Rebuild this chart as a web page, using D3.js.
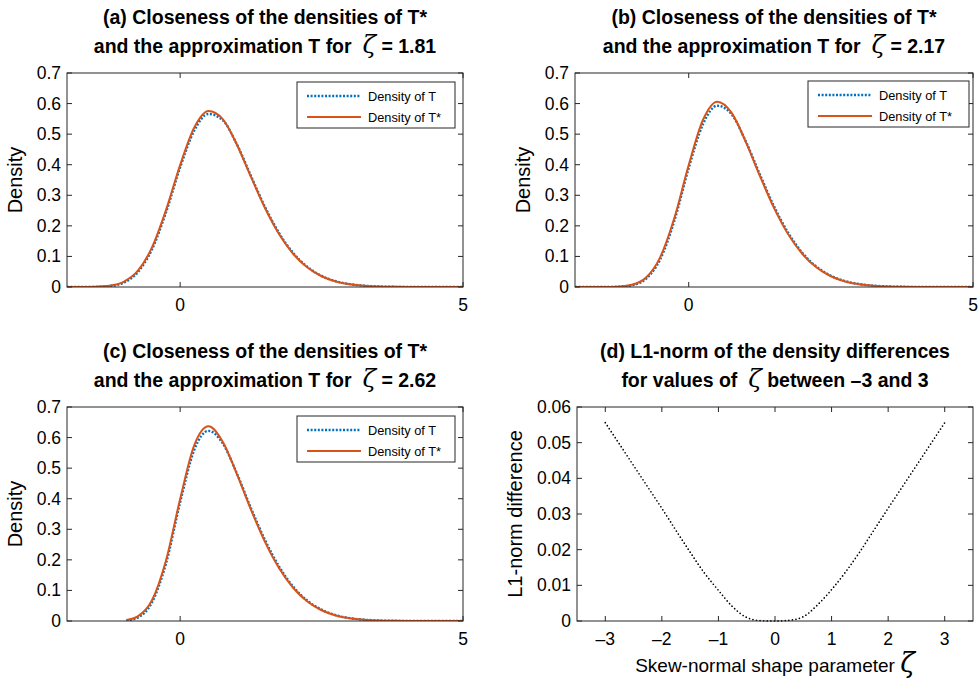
<!DOCTYPE html>
<html><head><meta charset="utf-8">
<script src="https://cdn.jsdelivr.net/npm/d3@7"></script>
<style>
body{margin:0;background:#fff;}
text{font-family:"Liberation Sans",Arial,Helvetica,sans-serif;fill:#000;}
</style></head>
<body><svg id="chart" width="980" height="686"></svg>
<script>
// ---------- data ----------
const densX = [-2,-1.75,-1.5,-1.25,-1,-0.75,-0.5,-0.25,0,0.25,0.5,0.75,1,1.25,1.5,1.75,2,2.25,2.5,2.75,3,3.25,3.5,3.75,4,4.25,4.5,4.75,5];
const densXC = [-0.95,-0.75,-0.5,-0.25,0,0.25,0.5,0.75,1,1.25,1.5,1.75,2,2.25,2.5,2.75,3,3.25,3.5,3.75,4,4.25,4.5,4.75,5];

// panel (a), zeta = 1.81
const tStarA = [0,0.0001,0.0009,0.0043,0.0170,0.0526,0.1286,0.2517,0.3989,0.5216,0.5755,0.5497,0.4669,0.3610,0.2582,0.1724,0.1080,0.0635,0.0351,0.0182,0.0089,0.0041,0.0017,0.0007,0.0003,0.0001,0,0,0];
const tApproxA = [0,0,0.0004,0.0030,0.0140,0.0480,0.1220,0.2440,0.3910,0.5120,0.5660,0.5460,0.4680,0.3640,0.2620,0.1760,0.1110,0.0660,0.0365,0.0190,0.0093,0.0042,0.0018,0.0007,0.0003,0.0001,0,0,0];
// panel (b), zeta = 2.17
const tStarB = [0,0,0.0002,0.0012,0.0073,0.0312,0.0979,0.2271,0.3989,0.5462,0.6062,0.5711,0.4766,0.3641,0.2589,0.1725,0.1080,0.0635,0.0351,0.0182,0.0089,0.0041,0.0017,0.0007,0.0003,0.0001,0,0,0];
const tApproxB = [0,0,0.0001,0.0008,0.0055,0.0270,0.0910,0.2180,0.3890,0.5320,0.5930,0.5660,0.4780,0.3690,0.2640,0.1770,0.1115,0.0660,0.0368,0.0192,0.0094,0.0043,0.0018,0.0007,0.0003,0.0001,0,0,0];
// panel (c), zeta = 2.62
const tStarC = [0.0030,0.0149,0.0670,0.1981,0.3989,0.5752,0.6372,0.5874,0.4818,0.3651,0.2590,0.1726,0.1080,0.0635,0.0351,0.0182,0.0089,0.0041,0.0017,0.0007,0.0003,0.0001,0,0,0];
const tApproxC = [0.0010,0.0110,0.0600,0.1880,0.3880,0.5600,0.6220,0.5820,0.4840,0.3700,0.2650,0.1780,0.1120,0.0660,0.0370,0.0190,0.0093,0.0043,0.0018,0.0007,0.0003,0.0001,0,0,0];

// panel (d): L1-norm of density differences
const zetaVals = [-3,-2.75,-2.5,-2.25,-2,-1.75,-1.5,-1.25,-1,-0.75,-0.5,-0.25,0,0.25,0.5,0.75,1,1.25,1.5,1.75,2,2.25,2.5,2.75,3];
const l1Norm = [0.0556,0.0496,0.0436,0.0376,0.0316,0.0254,0.0193,0.0135,0.0086,0.0040,0.0010,0.0001,0,0.0002,0.0012,0.0045,0.0088,0.0138,0.0194,0.0255,0.0316,0.0376,0.0436,0.0496,0.0556];

const densYTicks = [0,0.1,0.2,0.3,0.4,0.5,0.6,0.7];
const densXTicks = [0,5];
const l1YTicks = [0,0.01,0.02,0.03,0.04,0.05,0.06];
const l1XTicks = [-3,-2,-1,0,1,2,3];
const legendLabels = ["Density of T","Density of T*"];
const titles = {
  a:["(a) Closeness of the densities of T*","and the approximation T for  ","ζ"," = 1.81"],
  b:["(b) Closeness of the densities of T*","and the approximation T for  ","ζ"," = 2.17"],
  c:["(c) Closeness of the densities of T*","and the approximation T for  ","ζ"," = 2.62"],
  d:["(d) L1-norm of the density differences","for values of  ","ζ"," between \u20133 and 3"]
};

// ---------- drawing ----------
const svg = d3.select("#chart");
const AX = "#262626";
const BLUE = "#0072BD", ORANGE = "#D95319";
const TICKFS = 17.5;

function fmtTick(v){ return v<0 ? "\u2013"+Math.abs(v) : String(+v.toFixed(3)); }

function drawTitle(key, cx, y1){
  const t = titles[key];
  svg.append("text").attr("x",cx).attr("y",y1).attr("text-anchor","middle")
    .attr("font-size",19.5).attr("font-weight","bold").attr("xml:space","preserve").text(t[0]);
  const l2 = svg.append("text").attr("x",cx).attr("y",y1+29).attr("text-anchor","middle")
    .attr("font-size",19.5).attr("font-weight","bold").attr("xml:space","preserve");
  l2.append("tspan").text(t[1]);
  l2.append("tspan").attr("font-family","'DejaVu Serif',serif").attr("font-style","italic")
    .attr("font-weight","normal").attr("font-size",25).text(t[2]);
  l2.append("tspan").text(t[3]);
}

function drawFrame(g, x, y, xTicks, yTicks, box){
  const {l,r,t,b} = box;
  xTicks.forEach(v=>{
    g.append("line").attr("x1",x(v)).attr("x2",x(v)).attr("y1",b).attr("y2",b-5).attr("stroke",AX);
    g.append("line").attr("x1",x(v)).attr("x2",x(v)).attr("y1",t).attr("y2",t+5).attr("stroke",AX);
    g.append("text").attr("x",x(v)).attr("y",b+24).attr("text-anchor","middle").attr("font-size",TICKFS).text(fmtTick(v));
  });
  yTicks.forEach(v=>{
    g.append("line").attr("x1",l).attr("x2",l+5).attr("y1",y(v)).attr("y2",y(v)).attr("stroke",AX);
    g.append("line").attr("x1",r).attr("x2",r-5).attr("y1",y(v)).attr("y2",y(v)).attr("stroke",AX);
    g.append("text").attr("x",l-6).attr("y",y(v)+6).attr("text-anchor","end").attr("font-size",TICKFS).text(fmtTick(v));
  });
  g.append("rect").attr("x",l).attr("y",t).attr("width",r-l).attr("height",b-t)
    .attr("fill","none").attr("stroke",AX).attr("stroke-width",1);
}

function densityPanel(key, box, xs, tStar, tApprox, legendBox){
  const g = svg.append("g");
  const x = d3.scaleLinear().domain([-2,5]).range([box.l, box.r]);
  const y = d3.scaleLinear().domain([0,0.7]).range([box.b, box.t]);
  const line = d3.line().x(d=>x(d[0])).y(d=>y(d[1])).curve(d3.curveMonotoneX);
  const clipId = "clip"+key;
  g.append("clipPath").attr("id",clipId).append("rect")
    .attr("x",box.l).attr("y",box.t).attr("width",box.r-box.l).attr("height",box.b-box.t);
  const pg = g.append("g").attr("clip-path",`url(#${clipId})`);
  pg.append("path").attr("d",line(d3.zip(xs,tApprox))).attr("fill","none")
    .attr("stroke",BLUE).attr("stroke-width",2.4).attr("stroke-dasharray","2,1.6");
  pg.append("path").attr("d",line(d3.zip(xs,tStar))).attr("fill","none")
    .attr("stroke",ORANGE).attr("stroke-width",2);
  drawFrame(g, x, y, densXTicks, densYTicks, box);
  g.append("text").attr("transform",`translate(${box.l-45},${(box.t+box.b)/2}) rotate(-90)`)
    .attr("text-anchor","middle").attr("font-size",20).text("Density");
  const lb = legendBox;
  g.append("rect").attr("x",lb.x).attr("y",lb.y).attr("width",lb.w).attr("height",lb.h)
    .attr("fill","#fff").attr("stroke",AX).attr("stroke-width",1);
  const rows = [{c:BLUE,dash:"2,1.6",w:2.4},{c:ORANGE,dash:null,w:2}];
  rows.forEach((rw,i)=>{
    const yy = lb.y + 14 + i*21;
    const ln = g.append("line").attr("x1",lb.x+10).attr("x2",lb.x+64).attr("y1",yy).attr("y2",yy)
      .attr("stroke",rw.c).attr("stroke-width",rw.w);
    if(rw.dash) ln.attr("stroke-dasharray",rw.dash);
    g.append("text").attr("x",lb.x+71).attr("y",yy+4.5).attr("font-size",12.8).text(legendLabels[i]);
  });
  drawTitle(key,(box.l+box.r)/2, box.t-49);
}

const boxA = {l:67,r:463,t:73,b:287};
const boxB = {l:575,r:973,t:73,b:287};
const boxC = {l:67,r:463,t:407,b:621};
const boxD = {l:577,r:973,t:407,b:621};

densityPanel("a", boxA, densX, tStarA, tApproxA, {x:297,y:82,w:158,h:46});
densityPanel("b", boxB, densX, tStarB, tApproxB, {x:808,y:81,w:161,h:46});
densityPanel("c", boxC, densXC, tStarC, tApproxC, {x:297,y:416,w:158,h:46});

// panel d
(function(){
  const box = boxD;
  const g = svg.append("g");
  const x = d3.scaleLinear().domain([-3.5,3.5]).range([box.l, box.r]);
  const y = d3.scaleLinear().domain([0,0.06]).range([box.b, box.t]);
  const line = d3.line().x(d=>x(d[0])).y(d=>y(d[1])).curve(d3.curveMonotoneX);
  g.append("path").attr("d",line(d3.zip(zetaVals,l1Norm))).attr("fill","none")
    .attr("stroke","#000").attr("stroke-width",1.7).attr("stroke-linecap","round")
    .attr("stroke-dasharray","0,3.6");
  drawFrame(g, x, y, l1XTicks, l1YTicks, box);
  g.append("text").attr("transform",`translate(${box.l-55},${(box.t+box.b)/2}) rotate(-90)`)
    .attr("text-anchor","middle").attr("font-size",20).text("L1-norm difference");
  const xl = g.append("text").attr("x",(box.l+box.r)/2).attr("y",box.b+51).attr("text-anchor","middle")
    .attr("font-size",19).attr("xml:space","preserve");
  xl.append("tspan").text("Skew-normal shape parameter ");
  xl.append("tspan").attr("font-family","'DejaVu Serif',serif").attr("font-style","italic").attr("font-size",27).text("ζ");
  drawTitle("d",(box.l+box.r)/2, box.t-49);
})();
</script></body></html>
